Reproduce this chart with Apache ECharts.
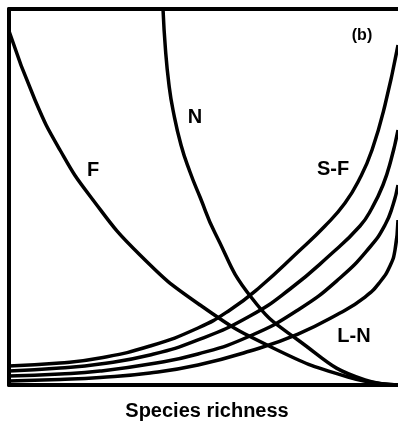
<!DOCTYPE html>
<html>
<head>
<meta charset="utf-8">
<script src="https://cdn.jsdelivr.net/npm/echarts@6/dist/echarts.min.js"></script>
<style>
  html, body { margin: 0; padding: 0; background: #fff; }
  #chart { width: 398px; height: 427px; }
</style>
</head>
<body>
<div id="chart"></div>
<script>
// Relative scale (0-100) on both axes; curves sampled along species richness.
const curveF_x = [0, 6.68, 13.11, 20.82, 33.68, 49.10, 67.35, 87.15, 100];
const curveF_y = [94.15, 75.80, 62.50, 50.27, 34.57, 21.28, 10.11, 2.13, 0];

const curveN_x = [39.59, 40.23, 41.13, 42.16, 44.22, 46.53, 49.10, 52.96, 62.21, 74.29, 91.52, 100];
const curveN_y = [100, 89.10, 79.79, 73.14, 63.83, 56.65, 50.0, 40.43, 23.40, 11.97, 1.33, 0];

const curveSF_x = [0, 13.11, 23.39, 36.25, 48.59, 56.81, 64.52, 74.29, 81.23, 86.38, 90.23, 93.32, 96.66, 100];
const curveSF_y = [5.05, 5.85, 7.18, 10.37, 15.16, 19.95, 26.06, 35.37, 42.29, 48.40, 55.05, 62.50, 74.47, 90.43];

const curve2_x = [0, 13.11, 23.39, 36.25, 48.59, 61.95, 72.24, 82.52, 90.23, 93.32, 96.14, 98.20, 100];
const curve2_y = [3.72, 4.52, 5.59, 7.98, 11.97, 18.35, 25.53, 34.57, 42.29, 47.07, 53.19, 59.84, 67.82];

const curve3_x = [0, 13.11, 23.39, 36.25, 48.59, 61.95, 74.29, 85.09, 92.80, 96.66, 98.71, 100];
const curve3_y = [2.39, 2.93, 3.72, 5.59, 8.24, 13.03, 19.95, 28.46, 36.70, 42.55, 47.87, 53.19];

const curveLN_x = [0, 13.11, 23.39, 36.25, 48.59, 61.95, 74.29, 85.09, 91.52, 95.37, 97.94, 99.23, 100];
const curveLN_y = [1.06, 1.46, 1.99, 3.19, 5.32, 9.04, 13.56, 19.15, 23.40, 27.39, 31.65, 35.90, 43.88];

const curveLabels = ['F', 'N', 'S-F', 'L-N'];
const panelTag = '(b)';
const xTitle = 'Species richness';

const FONT = '"Liberation Sans", Arial, Helvetica, sans-serif';

function pairs(xs, ys) {
  return xs.map((x, i) => [x, ys[i]]);
}

function curve(xs, ys) {
  return {
    type: 'line',
    data: pairs(xs, ys),
    smooth: 0.5,
    symbol: 'none',
    clip: true,
    lineStyle: { color: '#000', width: 3.5 },
    z: 3
  };
}

const chart = echarts.init(document.getElementById('chart'), null, { renderer: 'canvas' });

const textStyle = { fill: '#000', fontFamily: FONT, fontWeight: 'bold', fontSize: 20 };

function plainAxis(extra) {
  return Object.assign({
    type: 'value', min: 0, max: 100,
    axisLine: { show: true, lineStyle: { color: '#000', width: 4 } },
    axisTick: { show: false }, axisLabel: { show: false }, splitLine: { show: false }
  }, extra);
}

chart.setOption({
  animation: false,
  backgroundColor: '#fff',
  grid: { left: 9, right: 0, top: 9, bottom: 42, outerBoundsMode: 'none', containLabel: false },
  xAxis: [
    plainAxis({
      position: 'bottom',
      name: xTitle, nameLocation: 'middle', nameGap: 16,
      nameTextStyle: { color: '#000', fontFamily: FONT, fontWeight: 'bold', fontSize: 20, padding: [0, 0, 0, 7] }
    }),
    plainAxis({ position: 'top' })
  ],
  yAxis: plainAxis({}),
  series: [
    curve(curveF_x, curveF_y),
    curve(curveN_x, curveN_y),
    curve(curveSF_x, curveSF_y),
    curve(curve2_x, curve2_y),
    curve(curve3_x, curve3_y),
    curve(curveLN_x, curveLN_y)
  ],
  graphic: [
    { type: 'text', x: 93, y: 170, style: Object.assign({ text: curveLabels[0], align: 'center', verticalAlign: 'middle' }, textStyle) },
    { type: 'text', x: 195, y: 117, style: Object.assign({ text: curveLabels[1], align: 'center', verticalAlign: 'middle' }, textStyle) },
    { type: 'text', x: 333, y: 169, style: Object.assign({ text: curveLabels[2], align: 'center', verticalAlign: 'middle' }, textStyle) },
    { type: 'text', x: 354, y: 336, style: Object.assign({ text: curveLabels[3], align: 'center', verticalAlign: 'middle' }, textStyle) },
    { type: 'text', x: 362, y: 36, style: Object.assign({}, textStyle, { text: panelTag, fontSize: 16, align: 'center', verticalAlign: 'middle' }) }
  ]
});
</script>
</body>
</html>
